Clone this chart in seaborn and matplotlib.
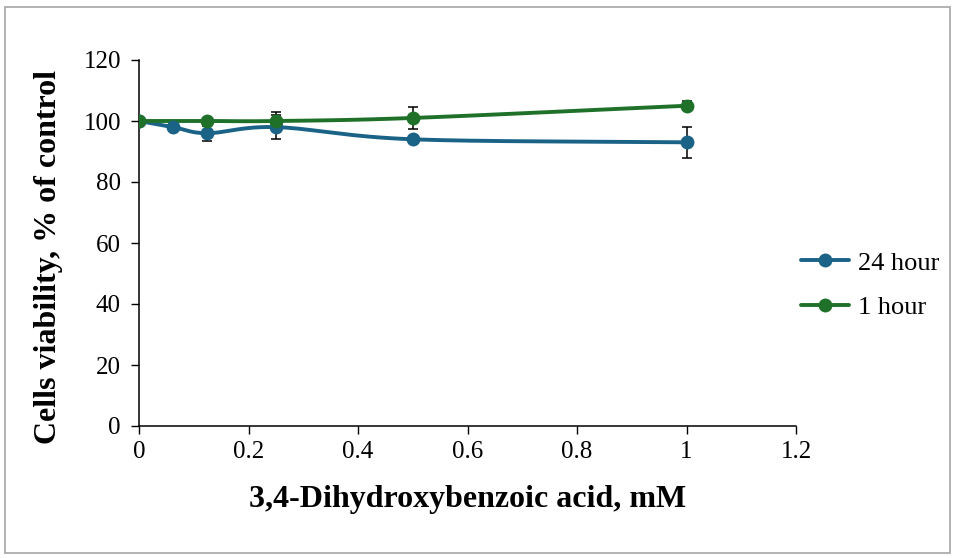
import numpy as np
import pandas as pd
import matplotlib
matplotlib.use("Agg")
import matplotlib.pyplot as plt
import seaborn as sns
from matplotlib.patches import Rectangle
from matplotlib.lines import Line2D

# Data
conc_24h = [0, 0.0625, 0.125, 0.25, 0.5, 1]
via_24h = [100, 98, 96, 98, 94, 93]
err_24h = [0, 0, 2.5, 4, 1, 5]
conc_1h = [0, 0.125, 0.25, 0.5, 1]
via_1h = [100, 100, 100, 101, 105]
err_1h = [0, 0, 3, 3.5, 1.5]
series_names = ["24 hour", "1 hour"]
colors = ["#1B6287", "#1F7129"]
x_ticks = [0, 0.2, 0.4, 0.6, 0.8, 1, 1.2]
y_ticks = [0, 20, 40, 60, 80, 100, 120]

df = pd.concat([
    pd.DataFrame({"conc": conc_24h, "via": via_24h, "series": series_names[0]}),
    pd.DataFrame({"conc": conc_1h, "via": via_1h, "series": series_names[1]}),
])

sns.set_style("white")
plt.rcParams["font.family"] = ["Liberation Serif", "DejaVu Serif"]
plt.rcParams["text.color"] = "black"
plt.rcParams["axes.labelcolor"] = "black"
plt.rcParams["xtick.color"] = "black"
plt.rcParams["ytick.color"] = "black"

fig = plt.figure(figsize=(9.55, 5.58), dpi=100)
ax = fig.add_axes([139/955, 1-426/558, (796-139)/955, (426-60)/558])

def smooth(xs, ys, n=30):
    xs = np.asarray(xs, float); ys = np.asarray(ys, float)
    px = np.concatenate([[2*xs[0]-xs[1]], xs, [2*xs[-1]-xs[-2]]])
    py = np.concatenate([[2*ys[0]-ys[1]], ys, [2*ys[-1]-ys[-2]]])
    ox, oy = [], []
    for i in range(1, len(px)-2):
        t = np.linspace(0, 1, n)
        p0x, p1x, p2x, p3x = px[i-1:i+3]
        p0y, p1y, p2y, p3y = py[i-1:i+3]
        c1x = p1x + (p2x - p0x)/6; c1y = p1y + (p2y - p0y)/6
        c2x = p2x - (p3x - p1x)/6; c2y = p2y - (p3y - p1y)/6
        bx = (1-t)**3*p1x + 3*(1-t)**2*t*c1x + 3*(1-t)*t**2*c2x + t**3*p2x
        by = (1-t)**3*p1y + 3*(1-t)**2*t*c1y + 3*(1-t)*t**2*c2y + t**3*p2y
        ox.extend(bx); oy.extend(by)
    return np.array(ox), np.array(oy)

for (xs, ys, es, c) in [(conc_24h, via_24h, err_24h, colors[0]),
                        (conc_1h, via_1h, err_1h, colors[1])]:
    sx, sy = smooth(xs, ys)
    ax.plot(sx, sy, color=c, lw=2.8, zorder=2, solid_capstyle="round")
    ax.errorbar(xs, ys, yerr=es, fmt="none", ecolor="black", elinewidth=1.1,
                capsize=3.6, capthick=1.1, zorder=3)

sns.lineplot(data=df, x="conc", y="via", hue="series", palette=colors,
             marker="o", markersize=10, markeredgewidth=0, linewidth=0,
             ax=ax, zorder=4, legend=False)

handles = [Line2D([0], [0], color=c, lw=2.8, marker="o", markersize=10,
                  markeredgewidth=0) for c in colors]
ax.legend(handles, series_names, loc="center left", bbox_to_anchor=(0.992, 0.385),
          frameon=False, fontsize=19, handlelength=1.8, labelspacing=0.8,
          handletextpad=0.35, borderaxespad=0.0)

ax.set_xlim(0, 1.2)
ax.set_ylim(0, 120)
ax.set_xticks(x_ticks)
ax.set_xticklabels([f"{v:g}" for v in x_ticks])
ax.set_yticks(y_ticks)
ax.tick_params(axis="both", labelsize=18, direction="out", length=6, width=1,
               color="black", labelcolor="black", left=True, bottom=True)
ax.tick_params(axis="x", pad=5)
ax.tick_params(axis="y", pad=7)
for s in ["top", "right"]:
    ax.spines[s].set_visible(False)
for s in ["left", "bottom"]:
    ax.spines[s].set_color("black")
    ax.spines[s].set_linewidth(1.1)

ax.set_xlabel("3,4-Dihydroxybenzoic acid, mM", fontsize=23, fontweight="bold",
              labelpad=16, color="black")
ax.set_ylabel("Cells viability, % of control", fontsize=23, fontweight="bold",
              color="black")
ax.yaxis.set_label_coords(-0.116, 0.462)

fig.patches.append(Rectangle((5/955, 5/558), 945/955, 546/558, transform=fig.transFigure,
                             fill=False, edgecolor="#A6A6A6", lw=1.2))

fig.savefig("out.png", dpi=100)
